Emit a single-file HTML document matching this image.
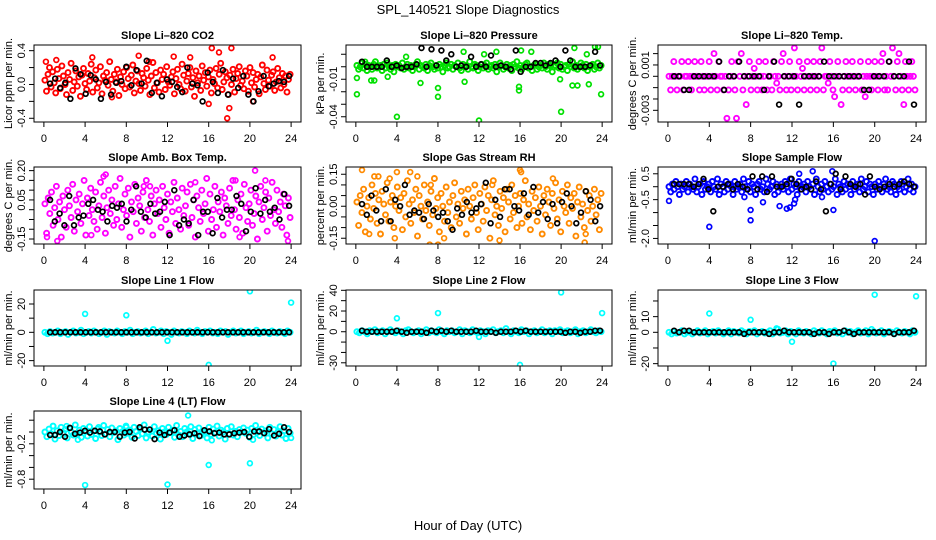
<!DOCTYPE html>
<html><head><meta charset="utf-8"><style>
html,body{margin:0;padding:0;background:#fff;}
svg{display:block;font-family:"Liberation Sans",Arial,sans-serif;}
</style></head><body>
<svg id="chart" width="936" height="540" viewBox="0 0 936 540">
<rect width="936" height="540" fill="#fff"/>
<text x="468" y="14" font-size="13" text-anchor="middle">SPL_140521  Slope Diagnostics</text>
<text x="468" y="530" font-size="13" text-anchor="middle">Hour of Day (UTC)</text>
</svg>
<script>
const xTicks=[0,4,8,12,16,20,24];
const xTickLabels=["0","4","8","12","16","20","24"];

// CO2 (units 0.01 ppm/min)
const co2Cloud=[5,-8,12,20,-3,15,2,-10,18,7,-5,22,10,0,-12,14,6,25,-7,3,16,-2,9,-14,11,19,1,-6,13,4,24,-9,8,17,-4,2,21,-11,10,5,14,-1,27,6,-8,12,3,18,-13,9,0,15,-5,20,7,-3,11,23,-10,4,16,1,-7,13,8,-2,19,5,-12,10,26,-4,14,2,-9,17,6,12,-6,21,3,-1,9,15,-11,7,18,0,-5,24,11,-8,4,13,20,-3,8,-14,16,2,10,-7,22,5,14,-2,9,17,-10,6,1,19,-4,12,25,-6,3,15,8,-12,11,0,18,-9,7,13,21,-1,4,-5,16,10,-8,20,2,14,-3,6,12,-11,9,23,1,-6,17,5,-2,11,15,-7,3,19,8,-4,13,0,10,-9,6,12];
const co2OutHours=[16.3,17.0,18.2,17.8,18.0,4.7,9.2,12.6,14.2,22.2,6.6,16.0,20.3,0.2,1.2,10.2];
const co2OutVals=[43,38,43,-40,-28,32,34,33,32,32,-15,-23,-20,27,29,27];
const co2Black=[1,7,-4,2,-17,19,12,-11,11,6,-17,3,-12,2,4,21,-1,17,1,28,-10,2,-14,6,3,-3,-9,20,1,-1,-20,14,3,-10,17,-12,7,-4,10,-12,-20,-8,10,-2,1,4,3,10];

// Pressure (units 0.001 kPa/min)
const presCloud=[1,-2,0,3,-1,2,-3,1,0,-2,2,4,-1,0,1,-3,2,-1,3,0,-2,1,-4,2,0,1,-1,3,-2,0,2,-1,1,-3,0,2,4,-2,1,0,-1,2,-3,1,3,0,-2,1,-1,2,0,-4,1,3,-1,0,2,-2,1,0,3,-1,-3,2,0,1,-2,4,0,-1,2,1,-3,0,2,-1,1,3,-2,0,1,-1,2,-4,0,3,1,-2,0,2,-1,1,-3,2,0,4,-1,1,-2,0,2,3,-1,0,-3,1,2,-2,0,1,-1,3,0,-2,2,1,-4,0,1,3,-1,2,-2,0,1,-3,2,0,4,-1,1,-2,0,3,1,-1,2,-3,0,1,2,-2,0,3,-1,1];
const presOutHours=[0.1,0.1,4,12,20,8,8,6.3,1.5,15.9,15.9,21.1,21.6,23.9,22.7,10.5,12.5,13.7,16.1,17.1,21.3,23.3,0.9,3.1,4.9,10.6,19.9,22.5,1.8,23.6];
const presOutVals=[-22,-9,-40,-43,-36,-17,-24,-13,-11,-19,-16,-15,-15,-22,-14,12,10,12,13,12,15,16,4,-8,8,-12,-10,10,-11,16];
const presBlack=[4,0,0,0,0,5,0,1,-1,0,0,2,15,0,14,1,13,5,10,0,1,0,8,0,2,0,9,0,1,0,-2,13,-4,0,0,3,3,1,3,5,0,13,5,0,0,0,1,12,1];

// Li-820 Temp (units 0.0001 C/min)
const tempCloud=[0,-12,0,13,0,-12,0,0,13,-12,0,0,13,0,-12,0,13,0,0,-12,13,0,-12,0,0,13,-12,0,20,0,-12,13,0,0,-12,0,-37,-12,0,13,0,-12,-37,13,0,20,-12,0,-25,0,13,-12,0,7,0,-12,13,0,-12,0,13,-12,0,0,-12,13,0,-6,0,-12,13,20,0,-12,0,13,-12,0,25,0,-12,13,0,7,-12,0,13,0,-12,0,13,0,-12,0,13,25,-12,0,0,-6,13,0,-12,-18,0,13,0,-25,-12,0,13,0,-12,0,13,0,-12,0,0,13,-12,0,-18,0,13,0,-12,0,13,0,-12,0,13,20,-12,0,-12,13,0,25,0,-12,13,20,0,-12,-25,13,0,-12,0,13,0,-12];
const tempBlack=[0,0,-12,-12,0,0,0,0,0,13,-12,0,0,13,0,0,0,0,-12,0,13,-25,0,0,0,-25,0,0,0,0,13,0,0,0,0,0,0,0,-12,-12,0,0,0,13,0,0,0,13,-25];

// Amb Box Temp (units 0.01 C/min)
const ambCloud=[3,-12,6,-2,9,-8,1,12,-5,4,-14,7,0,-9,10,2,-4,13,-11,5,-1,8,-7,3,15,-13,6,-3,11,0,-6,9,-10,2,14,-4,7,-12,1,10,-2,5,-8,12,-5,3,16,-9,0,8,-3,11,-14,4,-1,13,-7,6,2,-11,9,-4,15,0,-6,7,-13,3,10,-2,5,-9,12,1,-5,8,-12,4,-1,14,-7,6,0,-10,11,-3,2,9,-8,13,-4,5,-14,7,1,-6,10,-2,3,16,-11,8,-5,0,12,-9,4,-1,9,-13,6,2,-7,11,-3,15,0,-10,5,-4,8,-12,13,1,-6,3,10,-8,-2,7,-15,4,12,-5,1,9,-11,6,-3,14,0,-7,10,-1,4,-9,8,2,-13,6,-4];
const ambOutHours=[0.3,1.3,6.0,9.7,20.5,21.5,19.0,23.7,4.6,10.3,5.8,14.7,18.6];
const ambOutVals=[-14,-16,18,12,20,15,-14,-16,-13,12,17,14,15];
const ambBlack=[5,-6,-2,-8,7,-8,-4,-3,3,5,0,-1,-6,2,1,3,-6,0,12,-1,-4,3,-2,-1,4,-13,10,-8,-5,-7,5,-13,-1,-1,-12,6,-4,0,0,7,3,-11,-1,11,-2,5,-1,1,-5,8,2];

// Gas Stream RH (units 0.01 %/min)
const rhCloud=[2,-9,5,-3,8,-12,0,4,-6,10,-1,6,-8,3,-13,7,1,-4,11,-7,2,5,-10,0,9,-2,4,-11,6,-5,12,1,-8,3,-3,8,-14,5,0,-6,10,-2,2,-9,7,-4,13,-1,4,-12,6,0,-7,9,-3,2,-10,5,11,-5,1,-8,7,-1,3,-13,8,0,-6,4,10,-3,-11,6,1,-7,9,-2,5,-15,3,12,-4,0,-9,7,-1,4,-12,8,2,-6,10,-3,5,-10,0,6,-8,3,12,-5,1,-11,7,-2,4,-7,9,0,-13,5,-4,8,2,-9,6,-1,11,-6,3,-12,7,0,-3,10,-8,4,-1,6,-14,2,9,-5,1,-10,7,-2,5,-7,0,8,-4,3,-11,6];
const rhOutHours=[0.6,1.8,2.2,3.3,4.0,5.3,6.0,7.2,7.3,8.0,8.6,16.0,16.1,22.3,22.4,13.3,19.2,1.3,3.8,14.0];
const rhOutVals=[17,14,14,13,16,16,14,-18,10,-18,-15,17,16,-17,-13,10,13,-13,-15,-16];
const rhBlack=[1,-4,5,-2,-7,8,-7,3,0,10,-4,-2,-3,-6,1,-2,-5,-3,-7,-11,-1,-4,2,-3,-1,1,11,-8,3,-5,8,8,0,-2,6,-4,9,-3,2,-6,1,-8,2,6,0,-8,-3,7,3,-7,0];

// Sample Flow (units 0.1 ml/min/min)
const sampCloud=[0,-2,1,-1,2,0,-3,1,-1,0,2,-2,1,0,-1,3,-2,0,1,-3,2,-1,0,1,-2,2,0,-1,3,-3,1,0,-2,2,-1,1,0,-3,2,-1,0,1,-2,3,0,-1,2,-2,1,0,-3,1,2,-1,0,-2,3,1,-1,0,2,-3,1,-2,0,1,-1,2,0,-2,3,-1,1,0,-3,2,-1,0,1,-2,2,0,-1,1,-3,3,0,-2,1,-1,2,0,-2,1,-1,0,3,-3,1,0,-2,2,-1,1,0,-3,2,-1,0,1,-2,3,-1,0,2,-2,1,0,-3,1,-1,2,0,-2,1,3,-1,0,-2,2,1,-3,0,-1,2,1,-2,0,3,-1,1,-2,0];
const sampOutHours=[0.1,4,8,8,20,9.2,10.8,11.5,11.8,12.2,12.3,16,14,15.9,12.7,7.4,14.9];
const sampOutVals=[-5.5,-15.5,-13,-9,-21,-6,-7.5,-8.5,-8,-6.5,-5,-9,6,6,5,-4,-4];
const sampBlack=[1,1,1,1,0,1,3,-1,-9.5,0,0,1,-1,1,0,-1,4,-1,4,-2,4,0,0,1,3,1,-1,0,-1,2,-1,-9.5,1,5,-1,4,1,0,1,-3,4,0,-1,0,1,0,1,2,1,0];

// Line 1 Flow (ml/min/min)
const l1Cloud=[0,-1,0.5,-0.5,0,1,-1,0,0.5,-1.5,0,1,-0.5,0,1.5,-1,0,0.5,-0.5,1,0,-1,0,1,-1.5,0.5,0,-0.5,1,0,-1,0.5,0,1.5,-1,0,0.5,-0.5,0,1,-1,0,2,-0.5,0,1,-1,0.5,0,-1.5,1,0,-0.5,0.5,0,-1,1,0,-0.5,1.5,0,-1,0.5,0,1,-0.5,0,-1,1,0,0.5,-1.5,0,1,-0.5,0,1,-1,0,0.5,-0.5,0,1.5,-1,0,0.5,0,-1,1,0,-0.5,0.5,0,-1,1,0];
const l1OutHours=[4,8,12,16,20,24];
const l1OutVals=[13,12,-6,-23,29,21];
const l1Black=[0,0,0,0,0,0,0,0,0,0,0,0,0,0,0,0,0,0,0,0,0,0,0,0,0,0,0,0,0,0,0,0,0,0,0,0,0,0,0,0,0,0,0,0,0,0,0,0];

// Line 2 Flow
const l2Cloud=[0,-1,1,0,-2,1,0,2,-1,0,1,-2,0,2,0,-1,1,0,-2,1,2,0,-1,0,1,-2,0,2,-1,1,0,-1,2,0,-2,1,0,1,-1,0,2,-2,1,0,-1,2,0,-1,1,0,-2,1,0,2,-1,0,1,-1,3,0,-2,1,0,-1,2,0,1,-2,0,1,-1,0,2,-1,0,1,-2,1,0,2,-1,0,1,-1,0,2,-2,0,1,-1,0,2,0,-1,1,0];
const l2OutHours=[4,8,12,16,20,24];
const l2OutVals=[13,18,-5,-32,38,18];
const l2Black=[1,0,0,0,0,0,0,1,0,-1,0,0,0,-1,1,0,1,0,1,0,0,0,0,1,0,0,0,-1,0,0,0,1,0,1,0,0,0,0,0,0,0,-1,0,0,-1,0,0,1,1];

// Line 3 Flow
const l3Cloud=[0,-1,0.5,-0.5,0,1,-1,0,0.5,-1,0,1,-0.5,0,1,-1,0,0.5,-0.5,1,0,-1,0,1,-1,0.5,0,-0.5,1,0,-1,0.5,0,1,-1,0,0.5,-0.5,0,1,-1,0,2,-0.5,0,1,-1,0.5,0,-1,1,0,-0.5,0.5,0,-1,1,0,-0.5,1,0,-1,0.5,0,1,-0.5,0,-1,1,0,0.5,-1,0,1,-0.5,0,1,-1,0,0.5,-0.5,0,1,-1,0,0.5,0,-1,1,0,-0.5,0.5,0,-1,1,0];
const l3OutHours=[4,8,12,16,20,24,10.5,19.7];
const l3OutVals=[12,8,-6,-20,24,23,2.5,2];
const l3Black=[1,0,1,1,0,0,0,0,0,0,0,0,0,0,-1,0,0,0,0,-1,0,0,1,0,0,0,0,0,-1,0,0,-1,0,0,1,0,-1,0,0,0,0,0,0,0,-1,0,0,0,1];

// Line 4 (LT) Flow (units 0.01)
const l4Cloud=[0,-8,5,-3,10,-12,2,-6,8,-1,4,-10,7,0,-5,12,-2,3,-9,6,1,-7,9,-4,2,-11,5,0,-6,11,-3,4,-8,7,-1,2,-13,6,0,-5,10,-2,3,-9,8,1,-6,5,-3,12,-10,0,4,-7,9,-2,2,-12,6,0,-4,8,-1,3,-9,11,-5,1,-8,6,0,-3,9,-11,4,-2,7,-6,2,0,-10,8,-4,5,-1,10,-7,3,0,-12,6,-3,9,-5,1,-8,4,0,7,-2,3,-9,6,-4,11,0,-6,5,-1,2,-10,8,-3,4,-7,0,9,-5,2,-11,6,-2];
const l4OutHours=[4,12,16,20,14,0.9,2.2,3.3,16.3,20.3,24,5.3,8.0];
const l4OutVals=[-90,-89,-56,-53,28,10,10,-13,-14,-13,-10,8,8];
const l4Black=[-5,-5,0,-8,7,-3,-1,2,-1,2,1,-4,0,0,-8,-1,0,-11,8,4,4,-12,-1,-5,-1,3,-8,-6,-4,-2,-7,3,1,-2,-1,-4,-4,-2,-1,0,-8,1,1,-2,5,-6,-3,8,0];

const panels=[
 {name:"co2",title:"Slope Li\u2013820 CO2",ylab:"Licor ppm per min.",col:0,row:0,color:"#ff0000",unit:0.01,ymin:-0.444,ymax:0.467,cloud:co2Cloud,oh:co2OutHours,ov:co2OutVals,black:co2Black,yt:[-0.4,-0.2,0,0.2,0.4],yl:["-0.4","","0.0","","0.4"]},
 {name:"pressure",title:"Slope Li\u2013820 Pressure",ylab:"kPa per min.",col:1,row:0,color:"#00e000",unit:0.001,ymin:-0.0442,ymax:0.0174,cloud:presCloud,oh:presOutHours,ov:presOutVals,black:presBlack,yt:[-0.04,-0.03,-0.02,-0.01,0,0.01],yl:["-0.04","","","-0.01","",""]},
 {name:"li820-temp",title:"Slope Li\u2013820 Temp.",ylab:"degrees C per min.",col:2,row:0,color:"#ff00ff",unit:0.0001,ymin:-0.00403,ymax:0.00276,cloud:tempCloud,oh:[],ov:[],black:tempBlack,yt:[-0.003,-0.002,-0.001,0,0.001,0.002],yl:["-0.003","","","","0.001",""]},
 {name:"amb-box-temp",title:"Slope Amb. Box Temp.",ylab:"degrees C per min.",col:0,row:1,color:"#ff00ff",unit:0.01,ymin:-0.1755,ymax:0.2185,cloud:ambCloud,oh:ambOutHours,ov:ambOutVals,black:ambBlack,yt:[-0.15,-0.1,-0.05,0,0.05,0.1,0.15,0.2],yl:["-0.15","","","","0.05","","","0.20"]},
 {name:"gas-stream-rh",title:"Slope Gas Stream RH",ylab:"percent per min.",col:1,row:1,color:"#ff8a00",unit:0.01,ymin:-0.177,ymax:0.184,cloud:rhCloud,oh:rhOutHours,ov:rhOutVals,black:rhBlack,yt:[-0.15,-0.1,-0.05,0,0.05,0.1,0.15],yl:["-0.15","","","0.00","","","0.15"]},
 {name:"sample-flow",title:"Slope Sample Flow",ylab:"ml/min per min.",col:2,row:1,color:"#0000ff",unit:0.1,ymin:-2.215,ymax:0.762,cloud:sampCloud,oh:sampOutHours,ov:sampOutVals,black:sampBlack,yt:[-2,-1.5,-1,-0.5,0,0.5],yl:["-2.0","","","-0.5","","0.5"]},
 {name:"line1-flow",title:"Slope Line 1 Flow",ylab:"ml/min per min.",col:0,row:2,color:"#00ffff",unit:1,ymin:-23.8,ymax:29.9,cloud:l1Cloud,oh:l1OutHours,ov:l1OutVals,black:l1Black,yt:[-20,-10,0,10,20],yl:["-20","","0","","20"]},
 {name:"line2-flow",title:"Slope Line 2 Flow",ylab:"ml/min per min.",col:1,row:2,color:"#00ffff",unit:1,ymin:-33.1,ymax:40.3,cloud:l2Cloud,oh:l2OutHours,ov:l2OutVals,black:l2Black,yt:[-30,-20,-10,0,10,20,30,40],yl:["-30","","","0","","20","","40"]},
 {name:"line3-flow",title:"Slope Line 3 Flow",ylab:"ml/min per min.",col:2,row:2,color:"#00ffff",unit:1,ymin:-21.5,ymax:27,cloud:l3Cloud,oh:l3OutHours,ov:l3OutVals,black:l3Black,yt:[-20,-10,0,10,20],yl:["-20","","0","10",""]},
 {name:"line4-flow",title:"Slope Line 4 (LT) Flow",ylab:"ml/min per min.",col:0,row:3,color:"#00ffff",unit:0.01,ymin:-0.966,ymax:0.356,cloud:l4Cloud,oh:l4OutHours,ov:l4OutVals,black:l4Black,yt:[-0.8,-0.6,-0.4,-0.2,0,0.2],yl:["-0.8","","","-0.2","",""]}
];

const colX=[[34,301],[346,612],[658,926]];
const rowY=[[45,122],[167,244],[290,366],[411,489]];
const NS="http://www.w3.org/2000/svg";
const svg=document.getElementById('chart');
function mk(tag,attrs,parent){const e=document.createElementNS(NS,tag);for(const k in attrs)e.setAttribute(k,attrs[k]);(parent||svg).appendChild(e);return e;}

panels.forEach(p=>{
  const L=colX[p.col][0],R=colX[p.col][1],T=rowY[p.row][0],B=rowY[p.row][1];
  const xs=h=>L+(h+0.96)/25.92*(R-L);
  const ys=v=>B-(v-p.ymin)/(p.ymax-p.ymin)*(B-T);
  const g=mk('g',{});
  
  
  const cl=mk('clipPath',{id:'clip-'+p.name},g);
  mk('rect',{x:L-3,y:T,width:R-L+6,height:B-T},cl);
  const pts=mk('g',{'clip-path':'url(#clip-'+p.name+')'},g);
  
  
  function dot(h,v,col,nm,r,sw){
    const c=mk('circle',{cx:xs(h).toFixed(1),cy:ys(v).toFixed(1),r:r,fill:'none',stroke:col,'stroke-width':sw},pts);
    
    
  }
  const n=p.cloud.length;
  p.cloud.forEach((v,i)=>{dot(0.1+i*23.8/(n-1),v*p.unit,p.color,p.name+'-point',2.5,1.9);});
  p.oh.forEach((h,i)=>{dot(h,p.ov[i]*p.unit,p.color,p.name+'-outlier',2.4,1.7);});
  const m=p.black.length;
  p.black.forEach((v,i)=>{dot(0.6+i*23.2/(m-1),v*p.unit,'#000',p.name+'-mean-point',2.4,1.7);});
  const box=mk('rect',{x:L,y:T,width:R-L,height:B-T,fill:'none',stroke:'#000','stroke-width':1},g);
  
  
  const t=mk('text',{x:(L+R)/2,y:T-6,'font-size':11,'font-weight':'bold','text-anchor':'middle'},g);
  t.textContent=p.title;
  
  
  xTicks.forEach((h,i)=>{
    mk('line',{x1:xs(h),x2:xs(h),y1:B,y2:B+5,stroke:'#000'},g);
    const tl=mk('text',{x:xs(h),y:B+20,'font-size':11,'text-anchor':'middle'},g);
    tl.textContent=xTickLabels[i];
    
    
  });
  p.yt.forEach((v,i)=>{
    const y=ys(v);
    mk('line',{x1:L-5,x2:L,y1:y,y2:y,stroke:'#000'},g);
    if(p.yl[i]){
      const tl=mk('text',{x:L-9,y:y,'font-size':11,'text-anchor':'middle',transform:'rotate(-90 '+(L-9)+' '+y+')'},g);
      tl.textContent=p.yl[i];
      
      
    }
  });
  const yl=mk('text',{x:L-22,y:(T+B)/2,'font-size':11,'text-anchor':'middle',transform:'rotate(-90 '+(L-22)+' '+(T+B)/2+')'},g);
  yl.textContent=p.ylab;
  
  
});
</script>
</body></html>
